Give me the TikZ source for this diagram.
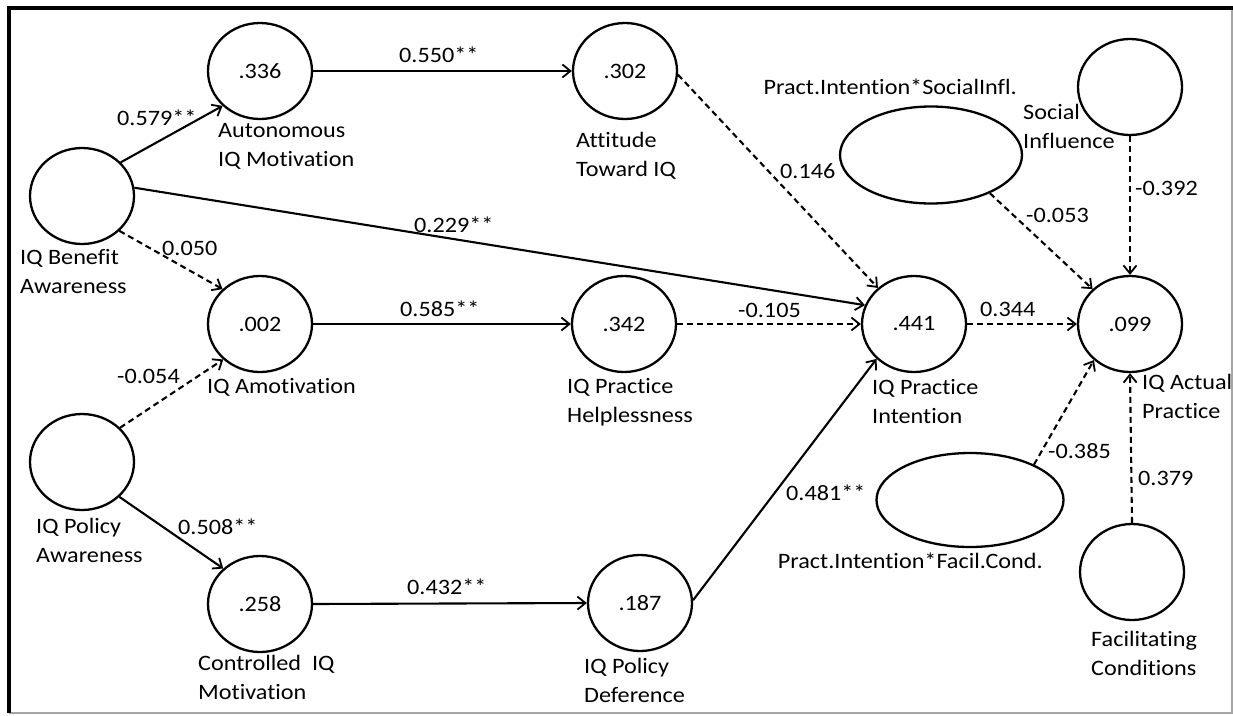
\documentclass[tikz,border=0pt]{standalone}
\usepackage{fontspec}
\setmainfont{Carlito}[FakeStretch=1.1,Ligatures=NoCommon]
\usetikzlibrary{shapes.geometric,arrows.meta}
\begin{document}
\begin{tikzpicture}[x=1pt,y=-1pt,
  font=\fontsize{22}{29}\selectfont,
  lv/.style={ellipse,draw,line width=2.3pt,minimum width=104pt,minimum height=96pt,inner sep=0pt},
  inter/.style={ellipse,draw,line width=2.3pt,inner sep=0pt},
  txt/.style={inner sep=0pt,anchor=base west,align=left},
  path/.style={line width=2.1pt,-{Straight Barb[length=8pt,width=13pt,line width=1.8pt]}},
  ns/.style={path,dash pattern=on 6pt off 4pt}
]
\useasboundingbox (0,0) rectangle (1233,715);

% frame
\draw[gray!70,line width=1.2pt] (9,713) -- (1232,713) -- (1232,8);
\draw[line width=4pt] (9,713) -- (9,8) -- (1233,8);

% constructs
\node[lv] (ba)  at (82,196)  {};
\node[lv] (pol) at (82,462)  {};
\node[lv] (aut) at (260,71)  {.336};
\node[lv] (amo) at (260,324) {.002};
\node[lv] (con) at (260,604) {.258};
\node[lv] (att) at (625,71)  {.302};
\node[lv] (hel) at (624,324) {.342};
\node[lv] (def) at (640,603) {.187};
\node[lv] (pin) at (914,324) {.441};
\node[lv] (apr) at (1130,324) {.099};
\node[lv] (soc) at (1130,87) {};
\node[lv] (fac) at (1132,572) {};
\node[inter,minimum width=182pt,minimum height=97pt] (isi) at (931,155) {};
\node[inter,minimum width=187pt,minimum height=94pt] (ifc) at (970,500) {};

% construct names (anchored at the baseline of the last line)
\node[txt] (tba)  at (20,293)   {IQ Benefit\\Awareness};
\node[txt] (tpol) at (36,562)   {IQ Policy\\Awareness};
\node[txt] (taut) at (218,166)  {Autonomous\\IQ Motivation};
\node[txt] (tamo) at (207,393)  {IQ Amotivation};
\node[txt] (tcon) at (198,699)  {Controlled\ \ IQ\\Motivation};
\node[txt] (tatt) at (576,176)  {Attitude\\Toward IQ};
\node[txt] (thel) at (567,422)  {IQ Practice\\Helplessness};
\node[txt] (tdef) at (584,702)  {IQ Policy\\Deference};
\node[txt] (tpin) at (872,423)  {IQ Practice\\Intention};
\node[txt] (tapr) at (1142,418) {IQ Actual\\Practice};
\node[txt] (tsoc) at (1023,148) {Social\\Influence};
\node[txt] (tfac) at (1091,675) {Facilitating\\Conditions};
\node[inner sep=0pt,anchor=base east] (tisi) at (1017,94)  {Pract.Intention*SocialInfl.};
\node[inner sep=0pt,anchor=base east] (tifc) at (1043,568) {Pract.Intention*Facil.Cond.};

% paths
\draw[path] (ba.41)  -- (aut.223);
\draw[path] (ba.9)   -- (pin.159);
\draw[ns]   (ba.-43) -- (amo.137);
\draw[ns]   (pol.42) -- (amo.224);
\draw[path] (pol.-43) -- (con.136);
\draw[path] (aut.east) -- (att.west);
\draw[path] (amo.east) -- (hel.west);
\draw[path] (con.east) -- (def.west);
\draw[ns]   (hel.east) -- (pin.west);
\draw[ns]   (pin.east) -- (apr.west);
\draw[ns]   (att.-4) -- (pin.135);
\draw[path] (def.3) -- (pin.223);
\draw[ns]   (isi.-33) -- (apr.137);
\draw[ns]   (soc.south) -- (apr.north);
\draw[ns]   (ifc.29) -- (apr.225);
\draw[ns]   (fac.north) -- (apr.south);

% coefficients
\node[txt] (c1)  at (117,125)  {0.579**};
\node[txt] (c2)  at (399,62)   {0.550**};
\node[txt] (c3)  at (780,178)  {0.146};
\node[txt] (c4)  at (414,232)  {0.229**};
\node[txt] (c5)  at (162,255)  {0.050};
\node[txt] (c6)  at (117,383)  {-0.054};
\node[txt] (c7)  at (400,316)  {0.585**};
\node[txt] (c8)  at (738,317)  {-0.105};
\node[txt] (c9)  at (980,316)  {0.344};
\node[txt] (c10) at (1026,222) {-0.053};
\node[txt] (c11) at (1135,195) {-0.392};
\node[txt] (c12) at (1048,458) {-0.385};
\node[txt] (c13) at (1138,485) {0.379};
\node[txt] (c14) at (786,500)  {0.481**};
\node[txt] (c15) at (178,534)  {0.508**};
\node[txt] (c16) at (407,594)  {0.432**};
\end{tikzpicture}
\end{document}
